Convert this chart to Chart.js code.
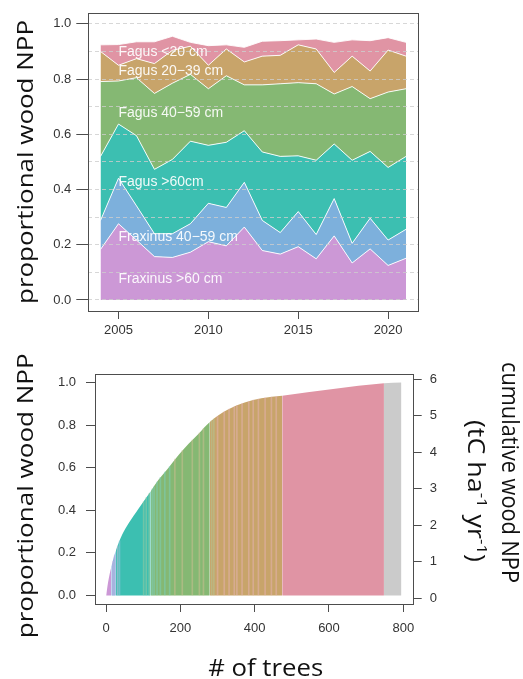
<!DOCTYPE html>
<html>
<head>
<meta charset="utf-8">
<script src="https://cdn.jsdelivr.net/npm/chart.js@4.4.1/dist/chart.umd.min.js"></script>
<style>
  body { margin: 0; background: #fff; }
  #wrap { position: relative; width: 523px; height: 679px; }
  canvas { position: absolute; left: 0; }
  #topChart { top: 0; }
  #bottomChart { top: 345px; }
</style>
</head>
<body>
<div id="wrap">
  <canvas id="topChart" width="523" height="345"></canvas>
  <canvas id="bottomChart" width="523" height="334"></canvas>
</div>
<script>
// share of wood NPP per size class and year (stacked bottom to top)
const years = [2004, 2005, 2006, 2007, 2008, 2009, 2010, 2011, 2012, 2013, 2014, 2015, 2016, 2017, 2018, 2019, 2020, 2021];
const fraxinus60 = [0.183, 0.276, 0.217, 0.157, 0.154, 0.173, 0.211, 0.196, 0.264, 0.179, 0.166, 0.193, 0.149, 0.232, 0.134, 0.185, 0.125, 0.151];
const fraxinus4059 = [0.105, 0.165, 0.124, 0.083, 0.086, 0.103, 0.139, 0.139, 0.162, 0.109, 0.078, 0.127, 0.088, 0.135, 0.071, 0.111, 0.092, 0.105];
const fagus60 = [0.232, 0.196, 0.254, 0.233, 0.269, 0.299, 0.210, 0.236, 0.187, 0.248, 0.276, 0.202, 0.269, 0.198, 0.301, 0.242, 0.263, 0.264];
const fagus4059 = [0.271, 0.156, 0.210, 0.275, 0.276, 0.242, 0.205, 0.241, 0.166, 0.243, 0.263, 0.265, 0.277, 0.181, 0.267, 0.191, 0.273, 0.245];
const fagus2039 = [0.109, 0.057, 0.069, 0.108, 0.119, 0.102, 0.085, 0.097, 0.083, 0.104, 0.103, 0.137, 0.126, 0.078, 0.110, 0.100, 0.152, 0.118];
const fagus20 = [0.024, 0.075, 0.061, 0.079, 0.051, 0.014, 0.071, 0.015, 0.053, 0.054, 0.053, 0.018, 0.036, 0.109, 0.059, 0.110, 0.045, 0.050];

const classNames = ['Fraxinus >60 cm', 'Fraxinus 40\u221259 cm', 'Fagus >60cm', 'Fagus 40\u221259 cm', 'Fagus 20\u221239 cm', 'Fagus <20 cm'];
const classLabelY = [0.063, 0.215, 0.414, 0.663, 0.816, 0.885];
const classLabelYear = 2005;

// cumulative proportion of wood NPP, trees ranked largest first
const treeRank = [0, 5, 14, 26, 43, 61, 88, 120, 141, 168, 195, 222, 249, 279, 328, 373, 418, 474, 748, 795];
const cumShare = [0, 0.06, 0.135, 0.21, 0.285, 0.34, 0.41, 0.49, 0.543, 0.60, 0.66, 0.712, 0.76, 0.815, 0.873, 0.906, 0.926, 0.938, 0.996, 1.0];
// first tree (rank) of each class run; the last run is the unclassed rest
const classFirstTree = [0, 14, 26, 120, 279, 474, 748];
// single trees that sit inside another class's run
const strayRank = [18, 22, 31, 36, 101, 108, 116, 124, 129, 137, 146, 158, 171, 185, 205, 232, 251, 262, 284, 290, 300, 318, 331, 345, 352, 366, 384, 396, 410, 428, 445, 458];
const strayClass = [0, 0, 0, 1, 3, 3, 3, 2, 2, 2, 2, 2, 2, 4, 4, 4, 4, 4, 3, 3, 5, 5, 5, 5, 5, 5, 5, 5, 5, 5, 5, 5];
const strayShare = [0.16, 0.185, 0.23, 0.255, 0.44, 0.46, 0.48, 0.50, 0.51, 0.533, 0.555, 0.58, 0.605, 0.64, 0.68, 0.73, 0.762, 0.782, 0.82, 0.828, 0.84, 0.862, 0.875, 0.886, 0.891, 0.901, 0.911, 0.917, 0.922, 0.928, 0.932, 0.935];

// ticks
const yearTicks = [2005, 2010, 2015, 2020];
const shareTicks = [0, 0.2, 0.4, 0.6, 0.8, 1.0];
const shareLabels = ['0.0', '0.2', '0.4', '0.6', '0.8', '1.0'];
const shareGrid = [0, 0.1, 0.2, 0.3, 0.4, 0.5, 0.6, 0.7, 0.8, 0.9, 1.0];
const treeTicks = [0, 200, 400, 600, 800];
const cumTicks = [0, 1, 2, 3, 4, 5, 6];

const classColors = ['#cc98d6', '#7db0dc', '#3cbfb1', '#85b873', '#c8a46a', '#e094a4', '#cbcbcb'];
const ink = '#4d4d4d';
const labelInk = '#333';
const tickFont = { family: '"Liberation Sans", Arial, sans-serif', size: 13 };

function shareLabelFor(v) {
  const k = shareTicks.findIndex(t => Math.abs(t - v) < 1e-6);
  return k >= 0 ? shareLabels[k] : '';
}

function classAt(tree) {
  let k = 0;
  classFirstTree.forEach((t, i) => { if (tree >= t) k = i; });
  return k;
}

// lighten a class colour for the thin single-tree bars
function pale(hex, a) {
  const n = parseInt(hex.slice(1), 16);
  const mix = c => Math.round(c + (255 - c) * 0.3);
  return `rgba(${mix(n >> 16)},${mix((n >> 8) & 255)},${mix(n & 255)},${a})`;
}

// text fitted to a given run length, optionally rotated
function drawFitted(ctx, runs, x, y, angle, length) {
  ctx.save();
  let total = 0;
  runs.forEach(r => {
    ctx.font = `${r.size}px "Open Sans"`;
    r.w = ctx.measureText(r.text).width;
    total += r.w;
  });
  ctx.translate(x, y);
  ctx.rotate(angle);
  ctx.scale(length / total, 1);
  ctx.fillStyle = '#111';
  ctx.textBaseline = 'alphabetic';
  let cx = -total / 2;
  runs.forEach(r => {
    ctx.font = `${r.size}px "Open Sans"`;
    ctx.fillText(r.text, cx, -(r.rise || 0));
    cx += r.w;
  });
  ctx.restore();
}

function drawBox(chart) {
  const { ctx, chartArea: a } = chart;
  ctx.save();
  ctx.strokeStyle = ink;
  ctx.lineWidth = 1;
  const l = Math.round(a.left) + 0.5, t = Math.round(a.top) + 0.5;
  const r = Math.round(a.right) + 0.5, b = Math.round(a.bottom) + 0.5;
  ctx.strokeRect(l, t, r - l, b - t);
  ctx.restore();
}

const topDecor = {
  id: 'topDecor',
  afterDraw(chart) {
    const { ctx, scales } = chart;
    drawBox(chart);
    ctx.save();
    ctx.fillStyle = 'rgba(255,255,255,0.92)';
    ctx.font = '14px "Liberation Sans", Arial, sans-serif';
    ctx.textBaseline = 'alphabetic';
    classNames.forEach((name, i) => {
      ctx.fillText(name, scales.x.getPixelForValue(classLabelYear), scales.y.getPixelForValue(classLabelY[i]));
    });
    ctx.restore();
    drawFitted(ctx, [{ text: 'proportional wood NPP', size: 21 }], 32.6, 162, -Math.PI / 2, 284);
  }
};

const bottomDecor = {
  id: 'bottomDecor',
  afterDraw(chart) {
    const { ctx } = chart;
    drawBox(chart);
    drawFitted(ctx, [{ text: 'proportional wood NPP', size: 21 }], 32.6, 150.8, -Math.PI / 2, 285);
    drawFitted(ctx, [{ text: 'cumulative wood NPP', size: 24 }], 501.7, 127.5, Math.PI / 2, 221);
    drawFitted(ctx, [
      { text: '(tC ha', size: 24 },
      { text: '-1', size: 15, rise: 9 },
      { text: ' yr', size: 24 },
      { text: '-1', size: 15, rise: 9 },
      { text: ')', size: 24 }
    ], 467.5, 145.9, Math.PI / 2, 142);
    drawFitted(ctx, [{ text: '# of trees', size: 24 }], 265.7, 331, 0, 115);
  }
};

const shares = [fraxinus60, fraxinus4059, fagus60, fagus4059, fagus2039, fagus20];

new Chart(document.getElementById('topChart'), {
  type: 'line',
  data: {
    datasets: shares.map((vals, i) => ({
      label: classNames[i],
      data: vals.map((v, k) => ({ x: years[k], y: v })),
      backgroundColor: classColors[i],
      borderColor: 'rgba(255,255,255,0.9)',
      borderWidth: 1,
      pointRadius: 0,
      tension: 0,
      fill: i === 0 ? 'origin' : '-1'
    }))
  },
  options: {
    responsive: false,
    animation: false,
    devicePixelRatio: 1,
    layout: { padding: { top: 6.7, right: 104.7, left: 0, bottom: 0 } },
    plugins: { legend: { display: false }, tooltip: { enabled: false } },
    scales: {
      x: {
        type: 'linear', min: 2003.32, max: 2021.68,
        afterFit: s => { s.height = 34; },
        afterBuildTicks: s => { s.ticks = yearTicks.map(v => ({ value: v })); },
        ticks: { autoSkip: false, maxRotation: 0, padding: 4, color: labelInk, font: tickFont, callback: v => String(v) },
        grid: { drawOnChartArea: false, tickLength: 8, tickColor: ink },
        border: { display: false }
      },
      y: {
        stacked: true, min: -0.04, max: 1.04,
        afterFit: s => { s.width = 88.3; },
        afterBuildTicks: s => { s.ticks = shareGrid.map(v => ({ value: v })); },
        ticks: { autoSkip: false, padding: 5, color: labelInk, font: tickFont, callback: v => shareLabelFor(v) },
        grid: {
          z: 1,
          color: 'rgba(205,205,205,0.8)',
          lineWidth: 1,
          tickLength: 12,
          tickBorderDash: [],
          tickColor: c => (c.tick && shareLabelFor(c.tick.value) !== '' ? ink : 'rgba(0,0,0,0)')
        },
        border: { display: false, dash: [4, 3] }
      }
    }
  },
  plugins: [topDecor]
});

new Chart(document.getElementById('bottomChart'), {
  type: 'line',
  data: {
    datasets: [{
      type: 'bar',
      label: 'stray trees',
      data: strayRank.map((t, i) => ({ x: t, y: strayShare[i] })),
      backgroundColor: strayClass.map(k => pale(classColors[k], 0.45)),
      borderWidth: 0,
      barThickness: 1,
      order: 0
    }, {
      label: 'cumulative share',
      data: treeRank.map((t, i) => ({ x: t, y: cumShare[i] })),
      borderColor: 'rgba(0,0,0,0)',
      borderWidth: 0,
      pointRadius: 0,
      cubicInterpolationMode: 'monotone',
      fill: 'origin',
      backgroundColor: classColors[0],
      segment: {
        backgroundColor: c => classColors[classAt(c.p0.parsed.x)]
      },
      order: 1
    }]
  },
  options: {
    responsive: false,
    animation: false,
    devicePixelRatio: 1,
    layout: { padding: { top: 29, right: 0, left: 0, bottom: 0 } },
    plugins: { legend: { display: false }, tooltip: { enabled: false } },
    scales: {
      x: {
        type: 'linear', min: -30, max: 827, offset: false,
        afterFit: s => { s.height = 75; },
        afterBuildTicks: s => { s.ticks = treeTicks.map(v => ({ value: v })); },
        ticks: { autoSkip: false, maxRotation: 0, padding: 9, color: labelInk, font: tickFont, callback: v => String(v) },
        grid: { drawOnChartArea: false, offset: false, tickLength: 8, tickColor: ink },
        border: { display: false }
      },
      y: {
        position: 'left', min: -0.04, max: 1.04,
        afterFit: s => { s.width = 95; },
        afterBuildTicks: s => { s.ticks = shareTicks.map(v => ({ value: v })); },
        ticks: { autoSkip: false, padding: 10, color: labelInk, font: tickFont, callback: v => shareLabelFor(v) },
        grid: { drawOnChartArea: false, tickLength: 9, tickColor: ink },
        border: { display: false }
      },
      y2: {
        display: true, position: 'right', min: -0.156, max: 6.145,
        afterFit: s => { s.width = 109.7; },
        afterBuildTicks: s => { s.ticks = cumTicks.map(v => ({ value: v })); },
        ticks: { autoSkip: false, padding: 8, color: labelInk, font: tickFont, callback: v => String(v) },
        grid: { drawOnChartArea: false, tickLength: 8.4, tickColor: ink },
        border: { display: false }
      }
    }
  },
  plugins: [bottomDecor]
});
</script>
</body>
</html>
